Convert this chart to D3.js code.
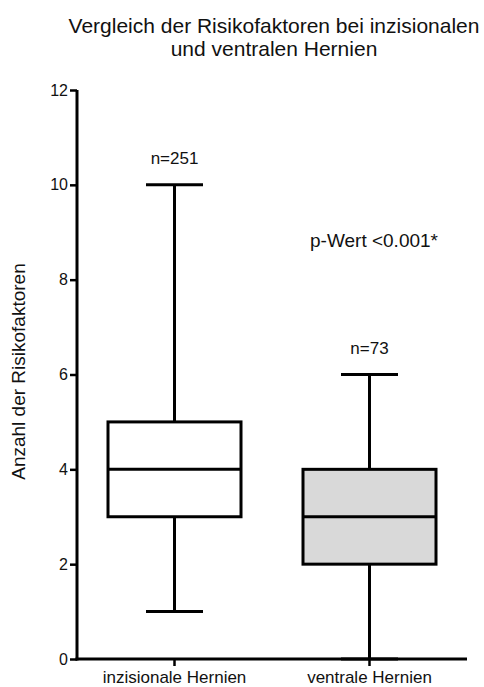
<!DOCTYPE html>
<html>
<head>
<meta charset="utf-8">
<script src="https://cdn.jsdelivr.net/npm/d3@7"></script>
<style>
  html, body { margin: 0; padding: 0; background: #fff; }
  svg { display: block; font-family: "Liberation Sans", Arial, sans-serif; }
</style>
</head>
<body>
<svg id="chart" width="484" height="687"></svg>
<script>
// Box-plot summaries per hernia group
const categories = ["inzisionale Hernien", "ventrale Hernien"];
const mins    = [1, 0];
const q1s     = [3, 2];
const medians = [4, 3];
const q3s     = [5, 4];
const maxs    = [10, 6];
const counts  = ["n=251", "n=73"];
const fills   = ["#ffffff", "#d9d9d9"];
const yTicks  = [0, 2, 4, 6, 8, 10, 12];

const svg = d3.select("#chart");
const margin = { left: 77, right: 17, top: 90, bottom: 28 };
const W = 484, H = 687;

const x = d3.scaleBand().domain(categories)
  .range([margin.left, W - margin.right]).padding(0);
const y = d3.scaleLinear().domain([0, 12]).range([659, margin.top]);

// Title
const title = svg.append("text").attr("text-anchor", "middle")
  .attr("font-size", 21).attr("fill", "#111");
title.append("tspan").attr("x", 274).attr("y", 33).text("Vergleich der Risikofaktoren bei inzisionalen");
title.append("tspan").attr("x", 274).attr("y", 56).text("und ventralen Hernien");

// Y axis title
svg.append("text")
  .attr("transform", `translate(25,${y(6) - 3}) rotate(-90)`)
  .attr("text-anchor", "middle").attr("font-size", 19).attr("fill", "#111")
  .text("Anzahl der Risikofaktoren");

// Axes
const yAxis = svg.append("g").attr("transform", `translate(${margin.left},0)`)
  .call(d3.axisLeft(y).tickValues(yTicks).tickSize(7).tickPadding(2).tickFormat(d3.format("d")));
const xAxis = svg.append("g").attr("transform", `translate(0,${y(0)})`)
  .call(d3.axisBottom(x).tickSize(7).tickPadding(5));
[yAxis, xAxis].forEach(g => {
  g.select(".domain").attr("stroke", "#000").attr("stroke-width", 3);
  g.selectAll(".tick line").attr("stroke", "#000").attr("stroke-width", 2.5);
  g.selectAll(".tick text").attr("fill", "#111").attr("font-family", "Liberation Sans, Arial, sans-serif");
});
yAxis.select(".domain").attr("d", `M0,${y(0) + 1.5}V${y(12)}`);
xAxis.select(".domain").attr("d", `M${margin.left - 1.5},0H${W - margin.right}`);
yAxis.selectAll(".tick text").attr("font-size", 16);
xAxis.selectAll(".tick text").attr("font-size", 17);

// Boxes
const boxW = 133, capW = 57;
const data = categories.map((c, i) => ({
  c, min: mins[i], q1: q1s[i], med: medians[i], q3: q3s[i], max: maxs[i],
  n: counts[i], fill: fills[i]
}));
const g = svg.append("g").attr("stroke", "#000").attr("stroke-width", 3);
data.forEach(d => {
  const cx = x(d.c) + x.bandwidth() / 2;
  g.append("line").attr("x1", cx).attr("x2", cx).attr("y1", y(d.q3)).attr("y2", y(d.max));
  g.append("line").attr("x1", cx).attr("x2", cx).attr("y1", y(d.q1)).attr("y2", y(d.min));
  g.append("line").attr("x1", cx - capW / 2).attr("x2", cx + capW / 2).attr("y1", y(d.max)).attr("y2", y(d.max));
  g.append("line").attr("x1", cx - capW / 2).attr("x2", cx + capW / 2).attr("y1", y(d.min)).attr("y2", y(d.min));
  g.append("rect").attr("x", cx - boxW / 2).attr("width", boxW)
    .attr("y", y(d.q3)).attr("height", y(d.q1) - y(d.q3)).attr("fill", d.fill);
  g.append("line").attr("x1", cx - boxW / 2).attr("x2", cx + boxW / 2).attr("y1", y(d.med)).attr("y2", y(d.med));
  svg.append("text").attr("x", cx).attr("y", y(d.max) - 21)
    .attr("text-anchor", "middle").attr("font-size", 17).attr("fill", "#111").text(d.n);
});

// Significance note
svg.append("text").attr("x", 374).attr("y", 247).attr("text-anchor", "middle")
  .attr("font-size", 19).attr("fill", "#111").text("p-Wert <0.001*");
</script>
</body>
</html>
